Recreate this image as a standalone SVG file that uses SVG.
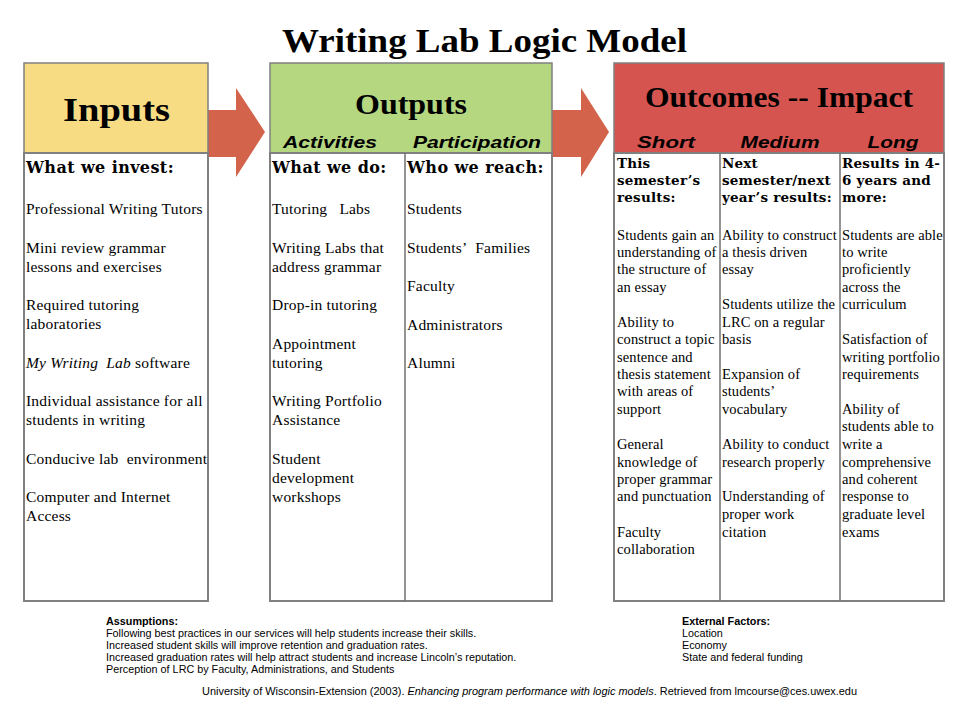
<svg xmlns="http://www.w3.org/2000/svg" width="960" height="720" viewBox="0 0 960 720">
<style>
.box{fill:#ffffff;stroke:#808080;stroke-width:2}
.div{stroke:#707070;stroke-width:1.5}
.hdr{stroke:#808080;stroke-width:1.5}
.arrow{fill:#D3634A}
.title{font-family:"Liberation Serif",serif;font-weight:bold;font-size:34px;fill:#000}
.big{font-family:"Liberation Serif",serif;font-weight:bold;fill:#000;text-anchor:middle}
.sub{font-family:"Liberation Sans",Arial,sans-serif;font-weight:bold;font-style:italic;font-size:17px;fill:#000;text-anchor:middle}
.ch{font-family:"DejaVu Serif",serif;font-weight:bold;font-size:16px;letter-spacing:0.4px;fill:#000}
.oh{font-family:"DejaVu Serif",serif;font-weight:bold;font-size:13.5px;letter-spacing:0.2px;fill:#000}
.it{font-family:"Liberation Serif",serif;font-size:15.5px;letter-spacing:0.2px;fill:#000}
.ot{font-family:"Liberation Serif",serif;font-size:14.5px;letter-spacing:0.1px;fill:#000}
.ft{font-family:"Liberation Sans",Arial,sans-serif;font-size:10.8px;fill:#000}
.fb{font-family:"Liberation Sans",Arial,sans-serif;font-size:10.8px;font-weight:bold;fill:#000}
</style>
<rect width="960" height="720" fill="#ffffff"/>
<text class="title" x="484.5" y="52" text-anchor="middle" textLength="405" lengthAdjust="spacingAndGlyphs">Writing Lab Logic Model</text>

<g id="connectors">
<polygon class="arrow" points="206,110 236,110 236,88 265,132 236,177 236,157 206,157"/>
<polygon class="arrow" points="550,110 581,110 581,88 609,132 581,177 581,157 550,157"/>
</g>

<g id="inputs">
<rect x="24" y="63" width="184" height="90" fill="#F8DC84" class="hdr"/>
<rect class="box" x="24" y="153" width="184" height="448"/>
<text class="big" x="116.5" y="121" font-size="33" textLength="107" lengthAdjust="spacingAndGlyphs">Inputs</text>
<text class="ch" x="26" y="173">What we invest:</text>
<text class="it" x="26" y="214">Professional Writing Tutors</text>
<text class="it" x="26" y="253">Mini review grammar</text>
<text class="it" x="26" y="272">lessons and exercises</text>
<text class="it" x="26" y="310">Required tutoring</text>
<text class="it" x="26" y="329">laboratories</text>
<text class="it" x="26" y="368"><tspan font-style="italic">My Writing</tspan> <tspan font-style="italic" dx="4">Lab</tspan> software</text>
<text class="it" x="26" y="406">Individual assistance for all</text>
<text class="it" x="26" y="425">students in writing</text>
<text class="it" x="26" y="464">Conducive lab <tspan dx="4">environment</tspan></text>
<text class="it" x="26" y="502">Computer and Internet</text>
<text class="it" x="26" y="521">Access</text>
</g>

<g id="outputs">
<rect x="270" y="63" width="282" height="90" fill="#B4D780" class="hdr"/>
<rect class="box" x="270" y="153" width="282" height="448"/>
<line class="div" x1="405" y1="153" x2="405" y2="601"/>
<text class="big" x="411" y="114" font-size="30" textLength="112" lengthAdjust="spacingAndGlyphs">Outputs</text>
<text class="sub" x="330" y="148" textLength="94" lengthAdjust="spacingAndGlyphs">Activities</text>
<text class="sub" x="477" y="148" textLength="128" lengthAdjust="spacingAndGlyphs">Participation</text>
<text class="ch" x="272" y="173">What we do:</text>
<text class="it" x="272" y="214">Tutoring <tspan dx="8">Labs</tspan></text>
<text class="it" x="272" y="253">Writing Labs that</text>
<text class="it" x="272" y="272">address grammar</text>
<text class="it" x="272" y="310">Drop-in tutoring</text>
<text class="it" x="272" y="349">Appointment</text>
<text class="it" x="272" y="368">tutoring</text>
<text class="it" x="272" y="406">Writing Portfolio</text>
<text class="it" x="272" y="425">Assistance</text>
<text class="it" x="272" y="464">Student</text>
<text class="it" x="272" y="483">development</text>
<text class="it" x="272" y="502">workshops</text>
<text class="ch" x="407" y="173">Who we reach:</text>
<text class="it" x="407" y="214">Students</text>
<text class="it" x="407" y="253">Students’ <tspan dx="5">Families</tspan></text>
<text class="it" x="407" y="291">Faculty</text>
<text class="it" x="407" y="330">Administrators</text>
<text class="it" x="407" y="368">Alumni</text>
</g>

<g id="outcomes">
<rect x="614" y="63" width="330" height="90" fill="#D6544F" class="hdr"/>
<rect class="box" x="614" y="153" width="330" height="448"/>
<line class="div" x1="720" y1="153" x2="720" y2="601"/>
<line class="div" x1="840" y1="153" x2="840" y2="601"/>
<text class="big" x="779" y="107" font-size="30" textLength="268" lengthAdjust="spacingAndGlyphs">Outcomes -- Impact</text>
<text class="sub" x="666" y="148" textLength="58" lengthAdjust="spacingAndGlyphs">Short</text>
<text class="sub" x="780" y="148" textLength="79" lengthAdjust="spacingAndGlyphs">Medium</text>
<text class="sub" x="893" y="148" textLength="51" lengthAdjust="spacingAndGlyphs">Long</text>

<text class="oh" x="617" y="168">This</text>
<text class="oh" x="617" y="185">semester’s</text>
<text class="oh" x="617" y="202">results:</text>
<text class="ot" x="617" y="240">Students gain an</text>
<text class="ot" x="617" y="257">understanding of</text>
<text class="ot" x="617" y="274">the structure of</text>
<text class="ot" x="617" y="292">an essay</text>
<text class="ot" x="617" y="327">Ability to</text>
<text class="ot" x="617" y="344">construct a topic</text>
<text class="ot" x="617" y="362">sentence and</text>
<text class="ot" x="617" y="379">thesis statement</text>
<text class="ot" x="617" y="396">with areas of</text>
<text class="ot" x="617" y="414">support</text>
<text class="ot" x="617" y="449">General</text>
<text class="ot" x="617" y="467">knowledge of</text>
<text class="ot" x="617" y="484">proper grammar</text>
<text class="ot" x="617" y="501">and punctuation</text>
<text class="ot" x="617" y="537">Faculty</text>
<text class="ot" x="617" y="554">collaboration</text>

<text class="oh" x="722" y="168">Next</text>
<text class="oh" x="722" y="185">semester/next</text>
<text class="oh" x="722" y="202">year’s results:</text>
<text class="ot" x="722" y="240">Ability to construct</text>
<text class="ot" x="722" y="257">a thesis driven</text>
<text class="ot" x="722" y="274">essay</text>
<text class="ot" x="722" y="309">Students utilize the</text>
<text class="ot" x="722" y="327">LRC on a regular</text>
<text class="ot" x="722" y="344">basis</text>
<text class="ot" x="722" y="379">Expansion of</text>
<text class="ot" x="722" y="396">students’</text>
<text class="ot" x="722" y="414">vocabulary</text>
<text class="ot" x="722" y="449">Ability to conduct</text>
<text class="ot" x="722" y="467">research properly</text>
<text class="ot" x="722" y="501">Understanding of</text>
<text class="ot" x="722" y="519">proper work</text>
<text class="ot" x="722" y="537">citation</text>

<text class="oh" x="842" y="168">Results in 4-</text>
<text class="oh" x="842" y="185">6 years and</text>
<text class="oh" x="842" y="202">more:</text>
<text class="ot" x="842" y="240">Students are able</text>
<text class="ot" x="842" y="257">to write</text>
<text class="ot" x="842" y="274">proficiently</text>
<text class="ot" x="842" y="292">across the</text>
<text class="ot" x="842" y="309">curriculum</text>
<text class="ot" x="842" y="344">Satisfaction of</text>
<text class="ot" x="842" y="362">writing portfolio</text>
<text class="ot" x="842" y="379">requirements</text>
<text class="ot" x="842" y="414">Ability of</text>
<text class="ot" x="842" y="431">students able to</text>
<text class="ot" x="842" y="449">write a</text>
<text class="ot" x="842" y="467">comprehensive</text>
<text class="ot" x="842" y="484">and coherent</text>
<text class="ot" x="842" y="501">response to</text>
<text class="ot" x="842" y="519">graduate level</text>
<text class="ot" x="842" y="537">exams</text>
</g>

<g id="assumptions">
<text class="fb" x="106" y="625">Assumptions:</text>
<text class="ft" x="106" y="637">Following best practices in our services will help students increase their skills.</text>
<text class="ft" x="106" y="649">Increased student skills will improve retention and graduation rates.</text>
<text class="ft" x="106" y="661">Increased graduation rates will help attract students and increase Lincoln’s reputation.</text>
<text class="ft" x="106" y="673">Perception of LRC by Faculty, Administrations, and Students</text>
</g>

<g id="external">
<text class="fb" x="682" y="625">External Factors:</text>
<text class="ft" x="682" y="637">Location</text>
<text class="ft" x="682" y="649">Economy</text>
<text class="ft" x="682" y="661">State and federal funding</text>
</g>

<g id="citation">
<text class="ft" x="202" y="695" textLength="655" lengthAdjust="spacingAndGlyphs">University of Wisconsin-Extension (2003).  <tspan font-style="italic">Enhancing program performance with logic models</tspan>.  Retrieved from  lmcourse@ces.uwex.edu</text>
</g>
</svg>
